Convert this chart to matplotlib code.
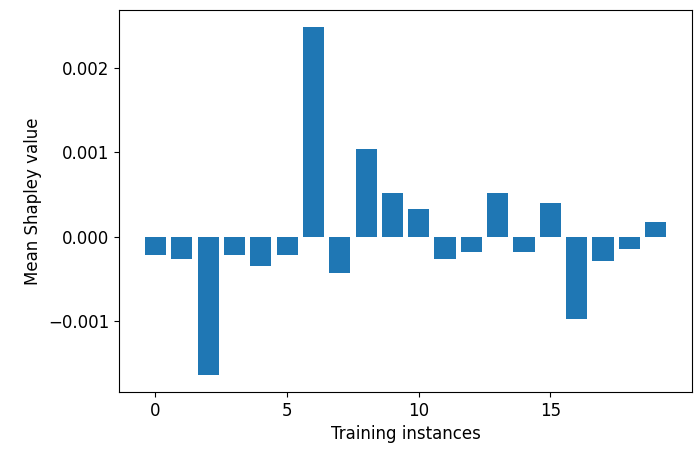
import matplotlib
matplotlib.use('Agg')
import matplotlib.pyplot as plt

instances = list(range(20))
shapley = [-0.00022, -0.00026, -0.00163, -0.00022, -0.00035, -0.00022, 0.00248, -0.00043,
           0.00104, 0.00052, 0.00033, -0.00026, -0.00018, 0.00052, -0.00018, 0.00040,
           -0.00097, -0.00029, -0.00014, 0.00017]
xticks = [0, 5, 10, 15]

plt.rcParams['font.size'] = 12
fig = plt.figure(figsize=(6.95, 4.49), dpi=100)
ax = fig.add_subplot(111)
fig.subplots_adjust(left=0.171, right=0.996, top=0.978, bottom=0.127)
ax.bar(instances, shapley, color='#1f77b4')
ax.set_xticks(xticks)
ax.set_xlabel('Training instances')
ax.set_ylabel('Mean Shapley value')
fig.savefig('out.png', dpi=100)
